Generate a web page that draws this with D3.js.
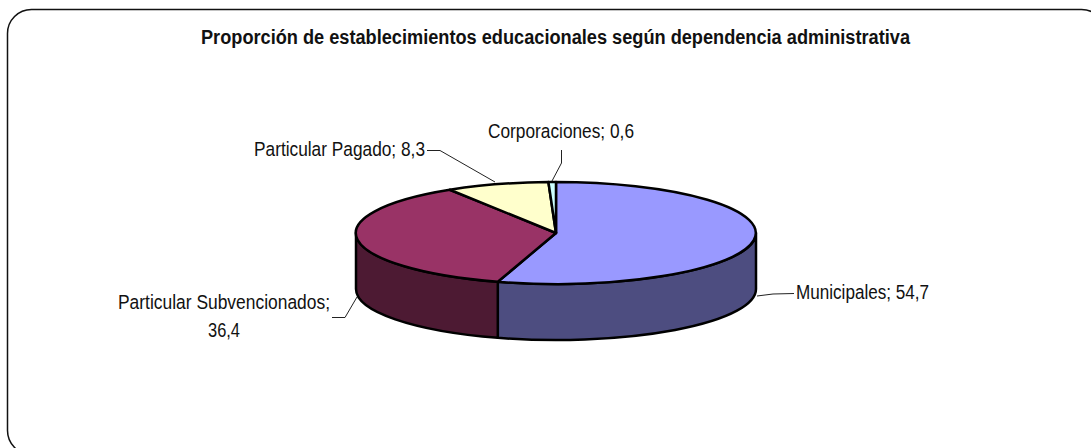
<!DOCTYPE html>
<html>
<head>
<meta charset="utf-8">
<script src="https://cdn.jsdelivr.net/npm/d3@7"></script>
<style>
    html, body { margin: 0; padding: 0; background: #fff; overflow: hidden; }
    svg { display: block; }
    text { font-family: "Liberation Sans", sans-serif; fill: #111; }
</style>
</head>
<body>
<div id="viz"></div>
<script>
let categories = ['Municipales', 'Particular Subvencionados', 'Particular Pagado', 'Corporaciones'];
let values = [54.7, 36.4, 8.3, 0.6];
let value_labels = ['54,7', '36,4', '8,3', '0,6'];
let top_colors = ['#9999ff', '#993366', '#ffffcc', '#ccffff'];
let side_colors = ['#4d4d80', '#4d1a33', '#808066', '#668080'];
let title = 'Proporción de establecimientos educacionales según dependencia administrativa';

let width = 1091, height = 448;
let cx = 556, cy = 233, rx = 200, ry = 51, depth = 56;

let svg = d3.select('#viz').append('svg')
    .attr('width', width)
    .attr('height', height);

// rounded frame of the chart area, runs off the right and bottom of the picture
svg.append('rect')
    .attr('x', 7.5).attr('y', 9.5)
    .attr('width', 1098).attr('height', 445)
    .attr('rx', 24).attr('ry', 24)
    .attr('fill', 'none')
    .attr('stroke', '#111')
    .attr('stroke-width', 1.5);

svg.append('text')
    .attr('x', 201).attr('y', 44)
    .attr('textLength', 709)
    .attr('lengthAdjust', 'spacingAndGlyphs')
    .style('font-size', '20px')
    .style('font-weight', 'bold')
    .text(title);

let pie = d3.pie().sort(null).value(d => d);
let slices = pie(values);

function px(a) { return cx + rx * Math.sin(a); }
function py(a) { return cy - ry * Math.cos(a); }

// front wall of the slices, only the part between 3 and 9 o'clock shows
function wall(d) {
    let a0 = Math.max(d.startAngle, Math.PI / 2);
    let a1 = Math.min(d.endAngle, 3 * Math.PI / 2);
    if (a1 <= a0) return null;
    return 'M' + px(a0) + ',' + py(a0)
        + 'A' + rx + ',' + ry + ' 0 0 1 ' + px(a1) + ',' + py(a1)
        + 'L' + px(a1) + ',' + (py(a1) + depth)
        + 'A' + rx + ',' + ry + ' 0 0 0 ' + px(a0) + ',' + (py(a0) + depth)
        + 'Z';
}

svg.selectAll('.wall')
    .data(slices)
    .enter()
    .append('path')
    .attr('class', 'wall')
    .attr('d', wall)
    .attr('fill', (d, i) => side_colors[i])
    .attr('stroke', '#000')
    .attr('stroke-width', 2.5)
    .attr('stroke-linejoin', 'round');

let arcGenerator = d3.arc().innerRadius(0).outerRadius(1);

svg.selectAll('.top')
    .data(slices)
    .enter()
    .append('path')
    .attr('class', 'top')
    .attr('d', arcGenerator)
    .attr('transform', 'translate(' + cx + ',' + cy + ') scale(' + rx + ',' + ry + ')')
    .attr('fill', (d, i) => top_colors[i])
    .attr('stroke', '#000')
    .attr('stroke-width', 2.5)
    .attr('vector-effect', 'non-scaling-stroke')
    .attr('stroke-linejoin', 'round');

// data labels: text position, width and leader line for each slice
let label_pos = [
    { x: 796, y: 299, w: 133, line: [[757, 296], [773, 294], [794, 293.5]] },
    { x: 118, y: 309, w: 212, line: [[357, 297], [345, 317.5], [332, 317.5]] },
    { x: 254, y: 156, w: 171, line: [[495, 182], [440, 150.5], [427, 150.5]] },
    { x: 488, y: 138, w: 146, line: [[552, 181], [561.5, 163], [561.5, 150]] }
];

let line = d3.line();

svg.selectAll('.leader')
    .data(label_pos)
    .enter()
    .append('path')
    .attr('class', 'leader')
    .attr('d', d => line(d.line))
    .attr('fill', 'none')
    .attr('stroke', '#222')
    .attr('stroke-width', 1);

svg.selectAll('.label')
    .data(label_pos)
    .enter()
    .append('text')
    .attr('class', 'label')
    .attr('x', d => d.x)
    .attr('y', d => d.y)
    .attr('textLength', d => d.w)
    .attr('lengthAdjust', 'spacingAndGlyphs')
    .style('font-size', '20.5px')
    .text((d, i) => i === 1 ? categories[i] + ';' : categories[i] + '; ' + value_labels[i]);

// second line of the wrapped label
svg.append('text')
    .attr('x', 208).attr('y', 337)
    .attr('textLength', 32)
    .attr('lengthAdjust', 'spacingAndGlyphs')
    .style('font-size', '20.5px')
    .text(value_labels[1]);
</script>
</body>
</html>
